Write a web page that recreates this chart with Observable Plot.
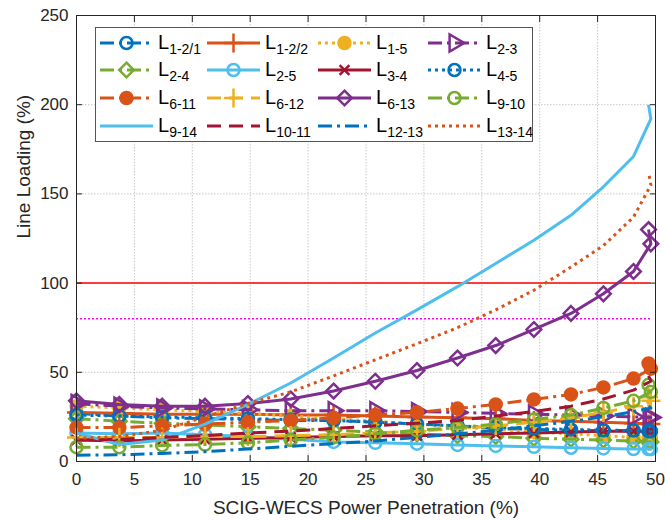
<!DOCTYPE html>
<html><head><meta charset="utf-8">
<script src="https://cdn.jsdelivr.net/npm/d3@7"></script>
<script src="https://cdn.jsdelivr.net/npm/@observablehq/plot@0.6"></script>
<style>
body{margin:0;background:#fff;}
#wrap{position:relative;width:665px;height:520px;font-family:"Liberation Sans",Arial,Helvetica,sans-serif;}
#wrap svg{display:block;}
</style>
</head><body>
<div id="wrap"></div>
<script>
// ---------- data ----------
const xVals = [0, 3.7, 7.4, 11.1, 14.8, 18.5, 22.2, 25.8, 29.4, 32.9, 36.2, 39.5, 42.7, 45.5, 48.1, 49.6, 49.4];
const xTicks = [0, 5, 10, 15, 20, 25, 30, 35, 40, 45, 50];
const yTicks = [0, 50, 100, 150, 200, 250];
const xLabel = "SCIG-WECS Power Penetration (%)";
const yLabel = "Line Loading (%)";

const seriesNames = ["1-2/1","1-2/2","1-5","2-3","2-4","2-5","3-4","4-5","6-11","6-12","6-13","9-10","9-14","10-11","12-13","13-14"];
const L1_2_1 = [27, 25.5, 24.5, 24, 23.5, 23, 23, 22, 21, 20, 18.5, 18, 17.5, 17.4, 17.2, 17, 17];
const L1_2_2 = [27.5, 27, 26.5, 26.5, 26.5, 26, 26, 25.5, 25, 24.5, 24, 23, 22.5, 22, 21.5, 21, 21];
const L1_5   = [31, 30, 29, 28, 27, 25.5, 24, 22.5, 21, 19.5, 18, 16.5, 15.5, 14.5, 13.5, 13, 13];
const L2_3   = [32.5, 31, 30, 29.5, 29, 28.5, 28.5, 28.5, 28, 27.5, 27, 26.5, 26, 25.5, 25, 24.7, 24.7];
const L2_4   = [24, 22.5, 21.5, 20.5, 19.5, 18.5, 17.5, 16.5, 15.5, 14.5, 14, 13, 12.5, 12, 11.5, 11, 11];
const L2_5   = [16, 15.5, 16, 15, 14, 12.5, 11, 10.5, 10, 9.3, 8.7, 8.2, 7.7, 7.3, 7, 7, 7];
const L3_4   = [12, 11.5, 12, 12.5, 13, 13.5, 14, 14.5, 14.5, 15, 15.5, 16, 16.5, 17, 17, 17, 17];
const L4_5   = [26, 25.5, 25, 24.5, 24, 23.5, 23, 22, 21, 20, 19, 18.5, 18, 17.5, 17.4, 17, 17];
const L6_11  = [19, 19, 20, 21, 22, 23, 24.5, 26, 27.5, 29.7, 32, 34.8, 37.6, 41.5, 46.5, 52, 55];
const L6_12  = [13.5, 13.5, 13.5, 14, 14, 14.5, 15, 16, 17, 18.5, 20, 22, 24.5, 27.5, 31, 34, 36];
const L6_13  = [34, 32, 31, 31, 32.5, 35, 39.5, 45, 51, 58, 65, 74, 83, 94, 106.5, 122, 130];
const L9_10  = [8, 8, 9, 9.5, 10.5, 12, 13.5, 15.5, 17.5, 19, 21, 23.5, 26, 30, 34, 39, 43];
const L9_14  = [16, 9.5, 12, 21, 32, 44, 58, 72, 85, 98, 111, 124, 138, 154, 171, 192, 200];
const L10_11 = [12, 12.5, 13.5, 14.5, 16, 17, 18.5, 20, 21.5, 23, 25.5, 28, 31, 35, 40, 45, 48];
const L12_13 = [3.5, 3.8, 4.5, 5.5, 7, 8.5, 10, 11.5, 13.5, 15.5, 17.5, 20, 22.5, 25, 28, 30, 31];
const L13_14 = [13, 14, 17.5, 25, 32.5, 39, 48, 57, 66, 75, 85, 96, 109, 121, 137, 155, 162];
const seriesValues = [L1_2_1, L1_2_2, L1_5, L2_3, L2_4, L2_5, L3_4, L4_5, L6_11, L6_12, L6_13, L9_10, L9_14, L10_11, L12_13, L13_14];

const limitValues = [100];   // red thermal limit
const warnValues = [80];     // magenta dotted

// ---------- styles ----------
const C = {blue:"#0072BD", orange:"#D95319", yellow:"#EDB120", purple:"#7E2F8E", green:"#77AC30", cyan:"#4DBEEE", dred:"#A2142F"};
const DASH = {solid:null, dashed:"14,8", dotted:"3,4", dashdot:"14,5,3,5"};
const styles = [
  {c:C.blue,   d:"dashdot", m:"circle"},
  {c:C.orange, d:"solid",   m:"plus"},
  {c:C.yellow, d:"dotted",  m:"circle", f:true},
  {c:C.purple, d:"dashdot", m:"triangle", rot:90},
  {c:C.green,  d:"dashdot", m:"diamond2"},
  {c:C.cyan,   d:"solid",   m:"circle"},
  {c:C.dred,   d:"solid",   m:"times"},
  {c:C.blue,   d:"dotted",  m:"circle"},
  {c:C.orange, d:"dashdot", m:"circle", f:true},
  {c:C.yellow, d:"dashed",  m:"plus"},
  {c:C.purple, d:"solid",   m:"diamond2"},
  {c:C.green,  d:"dashdot", m:"circle"},
  {c:C.cyan,   d:"solid",   m:null},
  {c:C.dred,   d:"dashed",  m:null},
  {c:C.blue,   d:"dashdot", m:null},
  {c:C.orange, d:"dotted",  m:null}
];
const RADIUS = {circle:6, diamond2:6.6, triangle:6.3, plus:6.2, times:4.5};
const LW = 3;
const MW = 2.5;

// ---------- build marks ----------
const xMax = d3.max(xVals);
const marks = [
  Plot.gridX(xTicks, {stroke:"#c8c8c8", strokeOpacity:1, strokeDasharray:"1.5,1.5"}),
  Plot.gridY(yTicks, {stroke:"#c8c8c8", strokeOpacity:1, strokeDasharray:"1.5,1.5"}),
  Plot.ruleY(limitValues, {x1:0, x2:xMax, stroke:"#FF0000", strokeWidth:1.5}),
  Plot.ruleY(warnValues, {x1:0, x2:xMax, stroke:"#FF00FF", strokeWidth:1.5, strokeDasharray:"2,2"})
];
seriesValues.forEach((vals, i) => {
  const s = styles[i];
  const rows = vals.map((v, j) => ({x: xVals[j], y: v, name: seriesNames[i]}));
  marks.push(Plot.line(rows, {x:"x", y:"y", stroke:s.c, strokeWidth:LW, strokeDasharray:DASH[s.d], strokeLinecap:"butt", strokeLinejoin:"round"}));
  if (s.m) {
    marks.push(Plot.dot(rows, {x:"x", y:"y", symbol:s.m, r:RADIUS[s.m], stroke:s.c, fill:s.f ? s.c : "none", strokeWidth:MW, rotate:s.rot || 0}));
  }
});
marks.push(
  Plot.axisX({ticks:xTicks, anchor:"bottom", tickSize:0, tickPadding:11, fontSize:17, label:null}),
  Plot.axisY({ticks:yTicks, anchor:"left", tickSize:0, tickPadding:8, fontSize:17, label:null}),
  Plot.axisX({ticks:xTicks, anchor:"bottom", tickSize:6, dy:-6, tickFormat:()=>"", label:null}),
  Plot.axisX({ticks:xTicks, anchor:"top", tickSize:6, dy:6, tickFormat:()=>"", label:null}),
  Plot.axisY({ticks:yTicks, anchor:"left", tickSize:6, dx:6, tickFormat:()=>"", label:null}),
  Plot.axisY({ticks:yTicks, anchor:"right", tickSize:6, dx:-6, tickFormat:()=>"", label:null}),
  Plot.frame({stroke:"#262626", strokeWidth:1}),
  Plot.text([xLabel], {frameAnchor:"bottom", dy:52, fontSize:19, fill:"#262626"}),
  Plot.text([yLabel], {frameAnchor:"left", dx:-53, rotate:-90, fontSize:19, fill:"#262626"})
);

const chart = Plot.plot({
  width:665, height:520,
  marginLeft:76, marginRight:10, marginTop:15, marginBottom:59,
  x:{domain:[0,50]},
  y:{domain:[0,250]},
  style:{fontFamily:"'Liberation Sans', Arial, Helvetica, sans-serif", color:"#262626", background:"#fff"},
  marks
});
document.getElementById("wrap").appendChild(chart);

// ---------- legend (overlay inside the axes) ----------
const symMap = {circle:d3.symbolCircle, plus:d3.symbolPlus, times:d3.symbolTimes, triangle:d3.symbolTriangle, diamond2:d3.symbolDiamond2};
const leg = d3.select("#wrap").append("svg")
  .attr("width", 438).attr("height", 116)
  .style("position","absolute").style("left","95px").style("top","27px");
leg.append("rect").attr("x",0.5).attr("y",0.5).attr("width",437).attr("height",114)
  .attr("fill","#fff").attr("stroke","#555").attr("stroke-width",1);
const colX = [5, 112, 223, 333];
const rowY = [16, 43, 71, 99];
seriesNames.forEach((name, i) => {
  const s = styles[i];
  const x0 = colX[i % 4], y0 = rowY[Math.floor(i / 4)];
  const g = leg.append("g");
  g.append("line").attr("x1", x0).attr("x2", x0 + 53).attr("y1", y0).attr("y2", y0)
    .attr("stroke", s.c).attr("stroke-width", LW).attr("stroke-dasharray", DASH[s.d])
    .attr("stroke-linecap", "butt");
  if (s.m) {
    const r = RADIUS[s.m];
    g.append("path").attr("d", d3.symbol(symMap[s.m], Math.PI * r * r)())
      .attr("transform", `translate(${x0 + 26.5},${y0}) rotate(${s.rot || 0})`)
      .attr("stroke", s.c).attr("stroke-width", MW).attr("fill", s.f ? s.c : "none");
  }
  const t = g.append("text").attr("x", x0 + 58).attr("y", y0 + 6)
    .attr("font-family", "'Liberation Sans', Arial, sans-serif").attr("fill", "#000");
  t.append("tspan").attr("font-size", 20).text("L");
  t.append("tspan").attr("font-size", 14).attr("dy", 5).text(name);
});
</script>
</body></html>
